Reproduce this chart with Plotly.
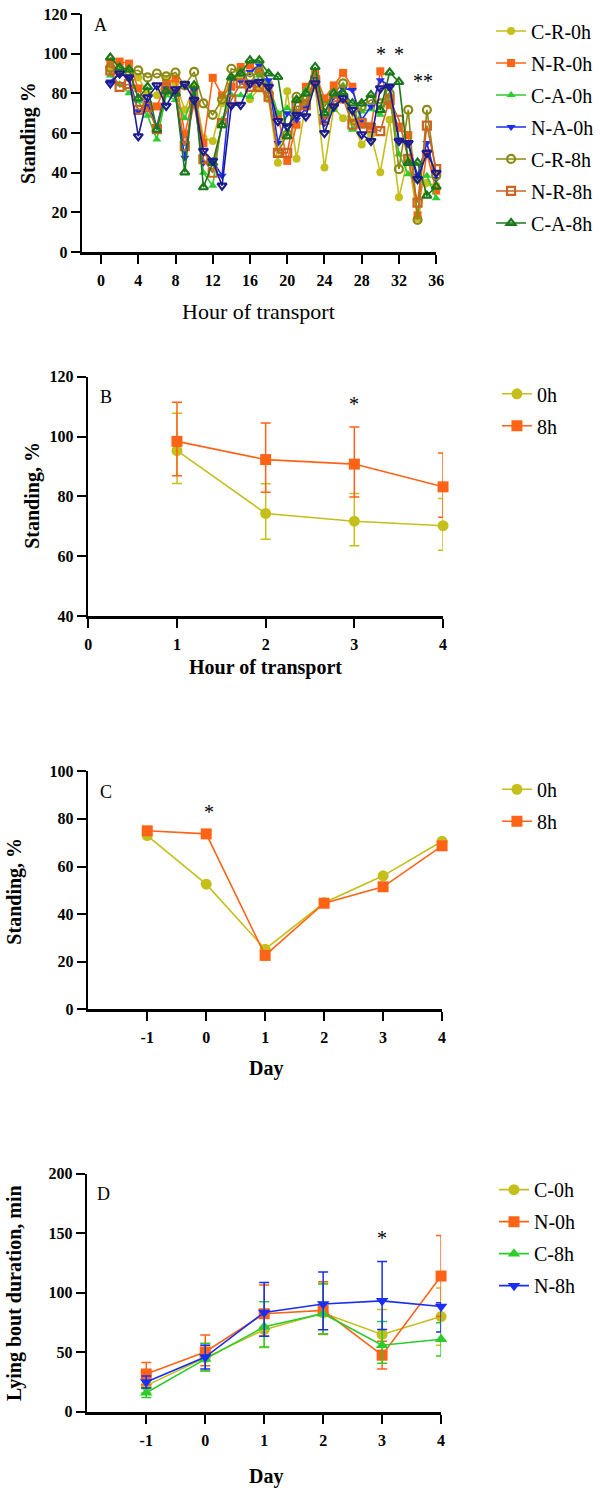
import plotly.graph_objects as go

W, H = 600, 1496
SERIF = "Liberation Serif"

def X(px):
    return px / W

def Y(py):
    return 1 - py / H

# ---------------- Panel A data ----------------
hours = list(range(1, 37))
a_names = ["C-R-0h", "N-R-0h", "C-A-0h", "N-A-0h", "C-R-8h", "N-R-8h", "C-A-8h", "N-A-8h"]
cr0 = [92, 90, 92, 88, 80, 79, 87, 85, 71.7, 83, 57.6, 56, 75, 88, 88, 77, 82.5, 77, 45, 81,
       47, 75, 83, 42.6, 72.5, 67.5, 66, 54.3, 59.3, 40.2, 66.7, 27.7, 47.6, 17, 35, 33.5]
nr0 = [96, 96, 95, 82.5, 73.4, 73.4, 85, 87.5, 59.3, 80, 55, 87.8, 79, 83.3, 93.3, 94, 91.6, 84, 69, 46,
       64.2, 83.3, 90, 77.5, 84, 90.3, 83.3, 64.2, 63.4, 91.1, 74.2, 62.6, 59, 18.6, 50, 31]
ca0 = [89, 84.6, 80, 76, 68.7, 56.8, 79, 76.7, 67.5, 80, 40, 33.5, 66.7, 79.2, 79, 78.3, 89, 85, 70, 72.5,
       70, 81.7, 89, 68.4, 71.7, 84, 61.7, 70.9, 72, 69.2, 79.2, 49.3, 39.3, 36, 38.5, 27.2]
na0 = [86, 90, 88, 71, 75, 63.4, 82.5, 79, 47.6, 81.7, 45, 46, 38.5, 87.5, 86, 90.8, 94, 86.6, 55, 70,
       66.7, 72.5, 87.5, 65, 78.3, 82.5, 81.7, 66.7, 73.4, 86.6, 84, 56.8, 55, 38.5, 55, 36.8]
cr8 = [93, 92, 91, 91.6, 88, 90, 88.6, 90.5, 84, 90.8, 75, 69.2, 77, 92.4, 90.8, 88.3, 90.8, 80, 50, 59.3,
       78.3, 76.7, 87.5, 73.4, 80, 85, 68.4, 73.4, 76.7, 75, 80, 41.8, 71.7, 16.3, 71.7, 38.5]
nr8 = [91.6, 83.3, 84.6, 71.7, 73, 62, 83, 81, 53.4, 75, 46.8, 40, 65, 76.7, 85, 83.3, 83.3, 78.3, 50, 50,
       73.4, 74, 86.6, 66.7, 75.8, 77.5, 64.2, 65, 62.6, 61, 76.7, 66.7, 47, 25, 63.7, 41.8]
ca8 = [98, 93, 92, 77.5, 83.3, 61.7, 81, 80, 40.2, 84, 32.7, 45, 64, 88, 90, 96.6, 96.6, 90, 88.3, 58.4,
       76.7, 80, 93.3, 70, 80, 80, 75, 75, 79.2, 71.7, 90.5, 85.8, 45, 45.1, 28.5, 33]
na8 = [85, 90, 88, 58.4, 78, 84, 73.7, 82, 84.6, 76.7, 51, 46, 33.5, 74, 74.2, 85, 85.8, 83.3, 66, 63.4,
       69.2, 68.4, 85, 60, 73.4, 77.5, 71.7, 59.3, 56, 82.5, 83.3, 56, 55, 36.8, 50, 40]
a_values = [cr0, nr0, ca0, na0, cr8, nr8, ca8, na8]
a_ticks = list(range(0, 37, 4))

# ---------------- Panel B data ----------------
b_hours = [1, 2, 3, 4]
b_names = ["0h", "8h"]
b_0h = [95.3, 74.3, 71.7, 70.2]
b_0h_plus = [12.5, 9.9, 9.3, 9.1]
b_0h_minus = [11.0, 8.6, 8.2, 8.2]
b_8h = [98.4, 92.3, 90.8, 83.2]
b_8h_plus = [13.1, 12.2, 12.4, 11.3]
b_8h_minus = [11.5, 10.9, 11.0, 10.2]

# ---------------- Panel C data ----------------
days = [-1, 0, 1, 2, 3, 4]
day_labels = ["-1", "0", "1", "2", "3", "4"]
c_0h = [73.0, 52.6, 25.3, 44.8, 56.1, 70.6]
c_8h = [75.0, 73.7, 22.7, 44.6, 51.5, 68.7]

# ---------------- Panel D data ----------------
d_names = ["C-0h", "N-0h", "C-8h", "N-8h"]
d_c0 = [22, 45.6, 69, 83, 65, 80]
d_c0_plus = [6, 12, 17, 25, 21, 24]
d_c0_minus = [6, 11, 15, 18, 21, 24]
d_n0 = [31.8, 50.3, 82.4, 85.2, 47.6, 114]
d_n0_plus = [9.7, 14.2, 24, 24, 11.6, 34]
d_n0_minus = [9, 11.6, 18.8, 20, 11.6, 34]
d_c8 = [16, 44.3, 71.4, 82.4, 55.9, 60.9]
d_c8_plus = [4, 13, 21, 25, 20, 14]
d_c8_minus = [4, 10, 17, 17, 15, 14]
d_n8 = [25, 46, 83.5, 90.5, 93.2, 88.5]
d_n8_plus = [5, 10, 25, 27, 33, 3]
d_n8_minus = [5, 10, 20, 21.5, 24, 21.5]

# ---------------- styles ----------------
OLIVE = "#c5bf1c"
ORANGE = "#ff6316"
GREEN = "#2ccc2c"
BLUE = "#1a2ef2"
OLIVE_D = "#8c8a14"
BROWN = "#cc6424"
GREEN_D = "#1b781b"
NAVY = "#1c1c8c"

a_colors = [OLIVE, ORANGE, GREEN, BLUE, OLIVE_D, BROWN, GREEN_D, NAVY]
a_symbols = ["circle", "square", "triangle-up", "triangle-down",
             "circle-open", "square-open", "triangle-up-open", "triangle-down-open"]

fig = go.Figure()

for i, (name, vals) in enumerate(zip(a_names, a_values)):
    is_open = "open" in a_symbols[i]
    fig.add_trace(go.Scatter(
        x=hours, y=vals, name=name, mode="lines+markers",
        line=dict(color=a_colors[i], width=1.6),
        marker=dict(symbol=a_symbols[i], size=8,
                    color=a_colors[i], line=dict(width=2.2 if is_open else 0, color=a_colors[i])),
        xaxis="x", yaxis="y", legend="legend", legendgroup="a%d" % i,
        showlegend=(name != "N-A-8h"), cliponaxis=False,
    ))

# Panel B
for name, vals, plus, minus, col, sym in [
    ("0h", b_0h, b_0h_plus, b_0h_minus, OLIVE, "circle"),
    ("8h", b_8h, b_8h_plus, b_8h_minus, ORANGE, "square"),
]:
    fig.add_trace(go.Scatter(
        x=b_hours, y=vals, name=name, mode="lines+markers",
        line=dict(color=col, width=1.6),
        marker=dict(symbol=sym, size=11, color=col),
        error_y=dict(type="data", array=plus, arrayminus=minus, color=col, thickness=1.5, width=5),
        xaxis="x2", yaxis="y2", legend="legend2", legendgroup="b" + name, cliponaxis=False,
    ))

# Panel C
for name, vals, col, sym in [("0h", c_0h, OLIVE, "circle"), ("8h", c_8h, ORANGE, "square")]:
    fig.add_trace(go.Scatter(
        x=days, y=vals, name=name, mode="lines+markers",
        line=dict(color=col, width=1.6),
        marker=dict(symbol=sym, size=11, color=col),
        xaxis="x3", yaxis="y3", legend="legend3", legendgroup="c" + name, cliponaxis=False,
    ))

# Panel D
for name, vals, plus, minus, col, sym in [
    ("C-0h", d_c0, d_c0_plus, d_c0_minus, OLIVE, "circle"),
    ("N-0h", d_n0, d_n0_plus, d_n0_minus, ORANGE, "square"),
    ("C-8h", d_c8, d_c8_plus, d_c8_minus, GREEN, "triangle-up"),
    ("N-8h", d_n8, d_n8_plus, d_n8_minus, BLUE, "triangle-down"),
]:
    fig.add_trace(go.Scatter(
        x=days, y=vals, name=name, mode="lines+markers",
        line=dict(color=col, width=1.6),
        marker=dict(symbol=sym, size=11, color=col),
        error_y=dict(type="data", array=plus, arrayminus=minus, color=col, thickness=1.5, width=5),
        xaxis="x4", yaxis="y4", legend="legend4", legendgroup="d" + name, cliponaxis=False,
    ))

tickfont = dict(family=SERIF, size=16, color="black", weight="bold")
axis_common = dict(showline=True, linecolor="black", linewidth=2.7, ticks="outside",
                   ticklen=9, tickwidth=2, tickcolor="black", showgrid=False, zeroline=False,
                   tickfont=tickfont, fixedrange=True)
xextra = dict(ticklabelstandoff=3)

layout = dict(
    width=W, height=H, margin=dict(l=0, r=0, t=0, b=0),
    paper_bgcolor="white", plot_bgcolor="white",
    font=dict(family=SERIF, color="black"),
    xaxis=dict(domain=[X(80), X(441)], range=[-2, 36], tickvals=a_ticks, anchor="y", **axis_common, **xextra),
    yaxis=dict(domain=[Y(247), Y(6)], range=[0, 120], tickvals=[0, 20, 40, 60, 80, 100, 120], anchor="x", **axis_common),
    xaxis2=dict(domain=[X(86), X(448)], range=[0, 4], tickvals=[0, 1, 2, 3, 4], anchor="y2", **axis_common, **xextra),
    yaxis2=dict(domain=[Y(615), Y(373)], range=[40, 120], tickvals=[40, 60, 80, 100, 120], anchor="x2", **axis_common),
    xaxis3=dict(domain=[X(86), X(447)], range=[-2, 4], tickvals=days, ticktext=day_labels, anchor="y3", **axis_common, **xextra),
    yaxis3=dict(domain=[Y(1013), Y(772)], range=[0, 100], tickvals=[0, 20, 40, 60, 80, 100], anchor="x3", **axis_common),
    xaxis4=dict(domain=[X(85), X(446)], range=[-2, 4], tickvals=days, ticktext=day_labels, anchor="y4", **axis_common, **xextra),
    yaxis4=dict(domain=[Y(1420), Y(1179)], range=[0, 200], tickvals=[0, 50, 100, 150, 200], anchor="x4", **axis_common),
)

leg_common = dict(xanchor="left", yanchor="top", bgcolor="rgba(0,0,0,0)",
                  font=dict(family=SERIF, size=20, color="black"), tracegroupgap=3,
                  itemclick=False, itemdoubleclick=False)
layout["legend"] = dict(x=X(497), y=Y(3.5), **leg_common)
layout["legend2"] = dict(x=X(503), y=Y(370.5), **leg_common)
layout["legend3"] = dict(x=X(503), y=Y(770.5), **leg_common)
layout["legend4"] = dict(x=X(500), y=Y(1175.5), **leg_common)

fig.update_layout(**layout)

def ann(text, px, py, size=18, bold=False, angle=0, xanchor="center"):
    fig.add_annotation(text=text, x=X(px), y=Y(py), xref="paper", yref="paper",
                       showarrow=False, textangle=angle, xanchor=xanchor, yanchor="middle",
                       font=dict(family=SERIF, size=size, color="black",
                                 weight="bold" if bold else "normal"))

# panel letters
ann("A", 98, 17, 18)
ann("B", 104, 393, 18)
ann("C", 104, 793, 18)
ann("D", 102, 1200, 18)

# axis titles
ann("Standing %", 25, 127, 20, True, -90)
ann("Hour of transport", 260, 307, 22, False)
ann("Standing, %", 29, 493, 20, True, -90)
ann("Hour of transport", 267, 667, 20, True)
ann("Standing, %", 11, 893, 20, True, -90)
ann("Day", 267, 1073, 20, True)
ann("Lying bout duration, min", 10, 1300, 20, True, -90)
ann("Day", 267, 1485, 20, True)

# significance marks (data coords)
def star(text, xref, yref, x, y):
    fig.add_annotation(text=text, x=x, y=y, xref=xref, yref=yref, showarrow=False,
                       font=dict(family=SERIF, size=20, color="black"), yanchor="middle")

star("*", "x", "y", 30.1, 100)
star("*", "x", "y", 32.0, 100)
star("**", "x", "y", 34.6, 86)
star("*", "x2", "y2", 3, 111)
star("*", "x3", "y3", 0.05, 83)
star("*", "x4", "y4", 3, 146)

fig.write_html("out.html", config={"displayModeBar": False, "staticPlot": True},
               post_script="document.body.style.margin='0';document.body.style.overflow='hidden';")
